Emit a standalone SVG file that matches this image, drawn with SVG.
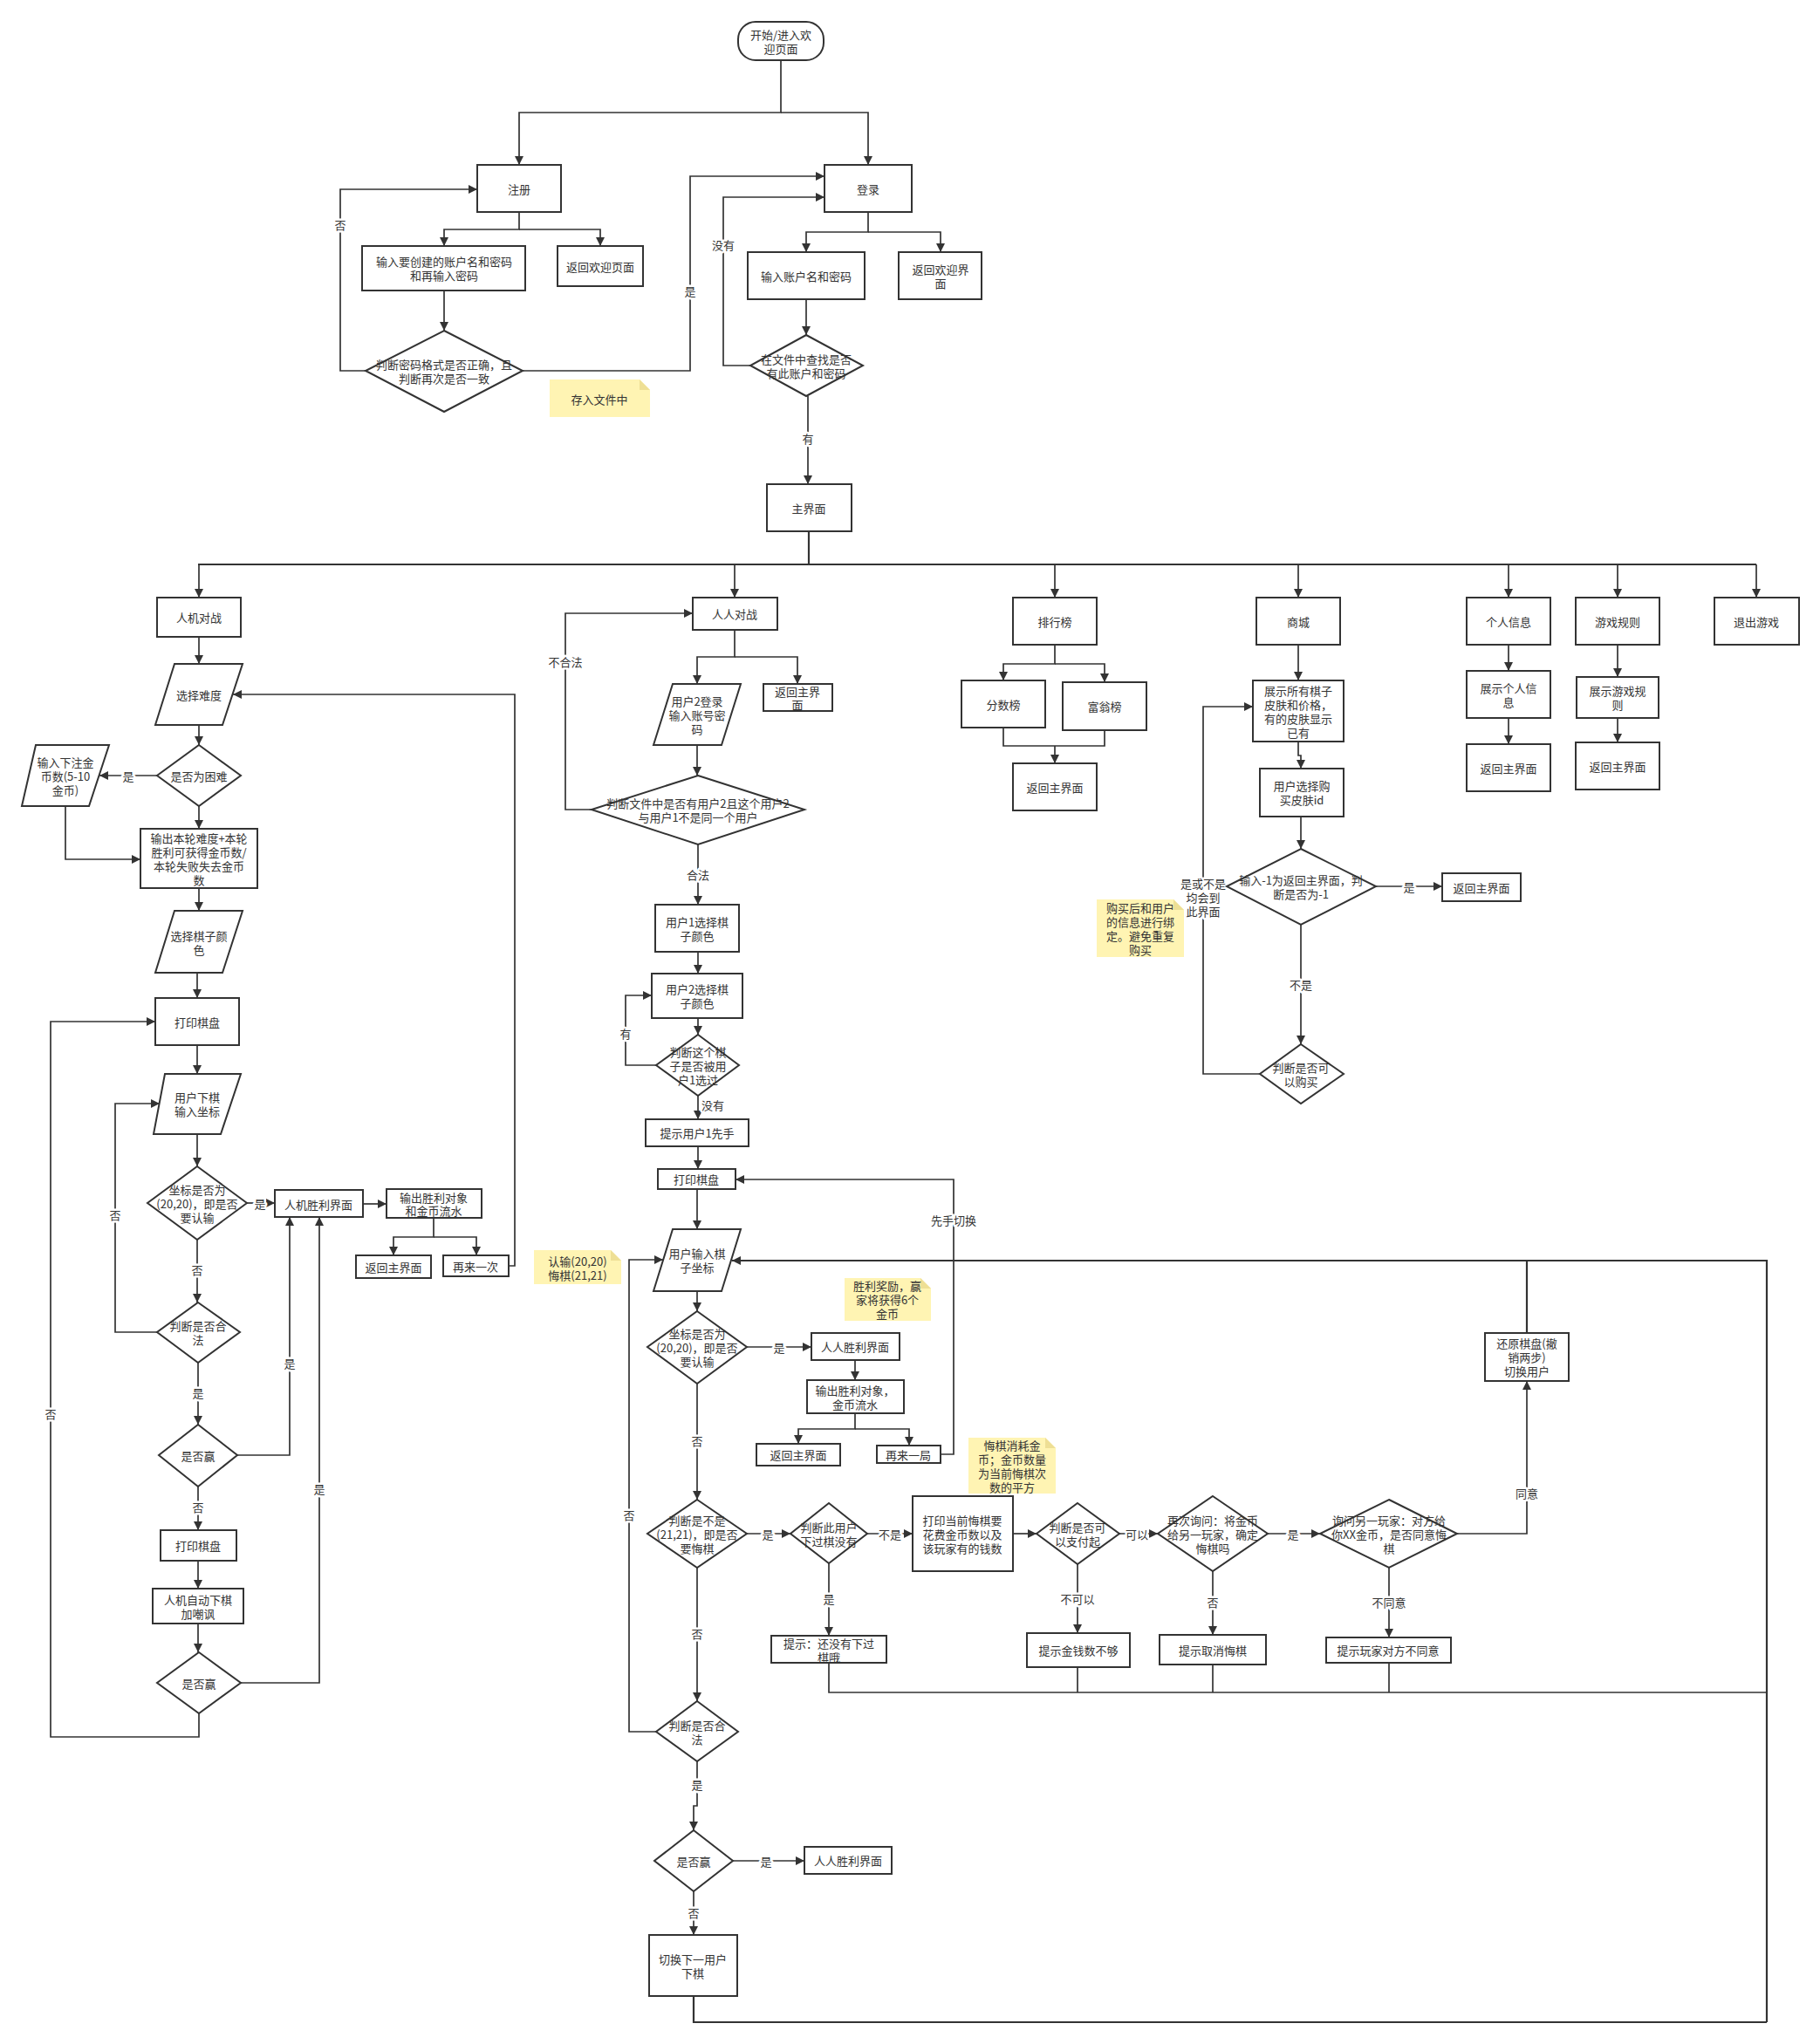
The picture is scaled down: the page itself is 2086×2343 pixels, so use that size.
<svg xmlns="http://www.w3.org/2000/svg" width="2086" height="2343" viewBox="0 0 2086 2343">
<style>
.n{fill:#fff;stroke:#333;stroke-width:2}
.note{fill:#fff4b3;stroke:none}
.fold{fill:#eedf95;stroke:none}
text{font-family:"Noto Sans CJK SC","Noto Sans",sans-serif;font-size:13px;fill:#333;text-anchor:middle;dominant-baseline:central}
.lbl{paint-order:stroke;stroke:#fff;stroke-width:5px;stroke-linejoin:round}
.c path{fill:none;stroke:#333;stroke-width:1.7}
.c path.a{marker-end:url(#arr)}
.c path.b{stroke-width:2.2}
</style>
<defs>
<marker id="arr" viewBox="0 0 10 10" refX="10" refY="5" markerWidth="11" markerHeight="10" markerUnits="userSpaceOnUse" orient="auto"><path d="M0,0 L10,5 L0,10 z" fill="#333"/></marker>
</defs>
<rect width="2086" height="2343" fill="#fff"/>

<g id="connectors" class="c">
<path class="a" d="M895 69 V129 H595 V189"/>
<path class="a" d="M895 129 H995 V189"/>
<path class="a" d="M595 243 V263 H509 V282"/>
<path class="a" d="M595 263 H688 V282"/>
<path class="a" d="M509 333 V379"/>
<path class="a" d="M419 425 H390 V217 H547"/>
<path class="a" d="M599 425 H791 V202 H945"/>
<path class="a" d="M995 243 V266 H924 V289"/>
<path class="a" d="M995 266 H1078 V289"/>
<path class="a" d="M924 343 V384"/>
<path class="a" d="M860 419 H829 V226 H945"/>
<path class="a" d="M926 454 V555"/>
<path class="b" d="M927 609 V647"/>
<path class="b" d="M227 647 H2013"/>
<path class="a" d="M228 647 V685"/>
<path class="a" d="M842 647 V685"/>
<path class="a" d="M1209 647 V685"/>
<path class="a" d="M1488 647 V685"/>
<path class="a" d="M1729 647 V685"/>
<path class="a" d="M1854 647 V685"/>
<path class="a" d="M2013 647 V685"/>

<path class="a" d="M228 730 V761"/>
<path class="a" d="M228 831 V854"/>
<path class="a" d="M180 889 H114"/>
<path class="a" d="M75 924 V985 H161"/>
<path class="a" d="M228 924 V950"/>
<path class="a" d="M228 1018 V1044"/>
<path class="a" d="M226 1115 V1144"/>
<path class="a" d="M226 1198 V1231"/>
<path class="a" d="M226 1300 V1337"/>
<path class="a" d="M283 1379 H315"/>
<path class="a" d="M416 1380 H443"/>
<path class="a" d="M497 1396 V1418 H451 V1439"/>
<path class="a" d="M497 1418 H546 V1439"/>
<path class="a" d="M583 1451 H590 V796 H267"/>
<path class="a" d="M226 1421 V1493"/>
<path class="a" d="M180 1527 H132 V1265 H183"/>
<path class="a" d="M227 1562 V1633"/>
<path class="a" d="M272 1668 H332 V1395"/>
<path class="a" d="M227 1704 V1754"/>
<path class="a" d="M227 1789 V1821"/>
<path class="a" d="M227 1861 V1894"/>
<path class="a" d="M276 1929 H366 V1395"/>
<path class="a" d="M228 1964 V1991 H58 V1171 H178"/>

<path class="a" d="M842 722 V753 H799 V784"/>
<path class="a" d="M842 753 H914 V784"/>
<path class="a" d="M799 854 V889"/>
<path class="a" d="M678 928 H648 V703 H794"/>
<path class="a" d="M800 968 V1037"/>
<path class="a" d="M800 1091 V1116"/>
<path class="a" d="M800 1167 V1186"/>
<path class="a" d="M752 1221 H717 V1141 H747"/>
<path class="a" d="M800 1256 V1283"/>
<path class="a" d="M800 1314 V1340"/>
<path class="a" d="M799 1363 V1409"/>
<path class="a" d="M799 1480 V1503"/>
<path class="a" d="M856 1544 H930"/>
<path class="a" d="M980 1559 V1582"/>
<path class="a" d="M980 1620 V1638 H915 V1655"/>
<path class="a" d="M980 1638 H1042 V1657"/>
<path class="a" d="M1078 1667 H1093 V1352 H843"/>
<path class="a" d="M799 1586 V1719"/>
<path class="a" d="M856 1758 H906"/>
<path class="a" d="M994 1758 H1046"/>
<path class="a" d="M1161 1758 H1188"/>
<path class="a" d="M1283 1758 H1327"/>
<path class="a" d="M1453 1758 H1513"/>
<path class="a" d="M1670 1758 H1750 V1583"/>
<path class="b" d="M1750 1528 V1445"/>
<path class="a" d="M950 1792 V1875"/>
<path class="a" d="M1235 1793 V1872"/>
<path class="a" d="M1390 1801 V1874"/>
<path class="a" d="M1592 1797 V1877"/>
<path d="M950 1906 V1940 H2025"/>
<path d="M1235 1911 V1940"/>
<path d="M1390 1908 V1940"/>
<path d="M1592 1906 V1940"/>
<path class="a b" d="M2025 2318 V1445 H839"/>
<path class="a" d="M799 1797 V1950"/>
<path class="a" d="M752 1985 H721 V1444 H760"/>
<path class="a" d="M799 2019 V2070 H795 V2098"/>
<path class="a" d="M840 2133 H922"/>
<path class="a" d="M795 2168 V2218"/>
<path class="b" d="M795 2288 V2318 H2025"/>

<path class="a" d="M1209 739 V761 H1150 V780"/>
<path class="a" d="M1209 761 H1266 V782"/>
<path d="M1150 834 V855 H1266 V837"/>
<path class="a" d="M1209 855 V875"/>
<path class="a" d="M1488 739 V780"/>
<path class="a" d="M1488 850 V866 H1491 V881"/>
<path class="a" d="M1491 936 V973"/>
<path class="a" d="M1577 1016 H1653"/>
<path class="a" d="M1491 1060 V1197"/>
<path class="a" d="M1444 1231 H1379 V810 H1436"/>
<path class="a" d="M1729 739 V769"/>
<path class="a" d="M1729 823 V853"/>
<path class="a" d="M1854 739 V776"/>
<path class="a" d="M1854 823 V851"/>

<g id="edge-labels">
<text class="lbl" x="390" y="257">否</text>
<text class="lbl" x="791" y="333">是</text>
<text class="lbl" x="829" y="280">没有</text>
<text class="lbl" x="926" y="502">有</text>
<text class="lbl" x="147" y="889">是</text>
<text class="lbl" x="298" y="1379">是</text>
<text class="lbl" x="226" y="1455">否</text>
<text class="lbl" x="132" y="1392">否</text>
<text class="lbl" x="227" y="1596">是</text>
<text class="lbl" x="332" y="1562">是</text>
<text class="lbl" x="227" y="1727">否</text>
<text class="lbl" x="366" y="1706">是</text>
<text class="lbl" x="58" y="1620">否</text>
<text class="lbl" x="648" y="758">不合法</text>
<text class="lbl" x="800" y="1002">合法</text>
<text class="lbl" x="717" y="1184">有</text>
<text class="lbl" x="817" y="1266">没有</text>
<text class="lbl" x="1093" y="1398">先手切换</text>
<text class="lbl" x="893" y="1544">是</text>
<text class="lbl" x="799" y="1651">否</text>
<text class="lbl" x="880" y="1758">是</text>
<text class="lbl" x="1020" y="1758">不是</text>
<text class="lbl" x="1303" y="1758">可以</text>
<text class="lbl" x="1482" y="1758">是</text>
<text class="lbl" x="1750" y="1711">同意</text>
<text class="lbl" x="950" y="1832">是</text>
<text class="lbl" x="1235" y="1832">不可以</text>
<text class="lbl" x="1390" y="1836">否</text>
<text class="lbl" x="1592" y="1836">不同意</text>
<text class="lbl" x="799" y="1872">否</text>
<text class="lbl" x="721" y="1736">否</text>
<text class="lbl" x="799" y="2045">是</text>
<text class="lbl" x="878" y="2133">是</text>
<text class="lbl" x="795" y="2192">否</text>
<text class="lbl" x="1615" y="1016">是</text>
<text class="lbl" x="1491" y="1128">不是</text>
<text class="lbl" x="1379" y="1012"><tspan x="1379">是或不是</tspan><tspan x="1379" dy="16">均会到</tspan><tspan x="1379" dy="16">此界面</tspan></text>
</g>
</g>

<g id="n_start"><rect class="n" x="846" y="25" width="98" height="44" rx="20"/><text x="895" y="39"><tspan x="895">开始/进入欢</tspan><tspan x="895" dy="16">迎页面</tspan></text></g>
<g id="n_reg"><rect class="n" x="547" y="189" width="96" height="54"/><text x="595" y="216">注册</text></g>
<g id="n_login"><rect class="n" x="945" y="189" width="100" height="54"/><text x="995" y="216">登录</text></g>
<g id="n_reginput"><rect class="n" x="415" y="282" width="187" height="51"/><text x="509" y="299"><tspan x="509">输入要创建的账户名和密码</tspan><tspan x="509" dy="16">和再输入密码</tspan></text></g>
<g id="n_regback"><rect class="n" x="639" y="282" width="98" height="46"/><text x="688" y="305">返回欢迎页面</text></g>
<g id="n_regcheck"><polygon class="n" points="509,379 599,425 509,472 419,425"/><text x="509" y="417"><tspan x="509">判断密码格式是否正确，且</tspan><tspan x="509" dy="16">判断再次是否一致</tspan></text></g>
<g id="note_save"><path class="note" d="M630 435 H733 L745 447 V478 H630 Z"/><path class="fold" d="M733 435 L745 447 H733 Z"/><text x="687" y="457">存入文件中</text></g>
<g id="n_loginput"><rect class="n" x="857" y="289" width="134" height="54"/><text x="924" y="316">输入账户名和密码</text></g>
<g id="n_loginback"><rect class="n" x="1030" y="289" width="95" height="54"/><text x="1078" y="308"><tspan x="1078">返回欢迎界</tspan><tspan x="1078" dy="16">面</tspan></text></g>
<g id="n_logcheck"><polygon class="n" points="924,384 989,419 924,454 860,419"/><text x="924" y="411"><tspan x="924">在文件中查找是否</tspan><tspan x="924" dy="16">有此账户和密码</tspan></text></g>
<g id="n_main"><rect class="n" x="879" y="555" width="97" height="54"/><text x="927" y="582">主界面</text></g>

<g id="n_pve"><rect class="n" x="180" y="685" width="96" height="45"/><text x="228" y="707">人机对战</text></g>
<g id="n_diff"><polygon class="n" points="200,761 278,761 255,831 178,831"/><text x="228" y="796">选择难度</text></g>
<g id="n_hard"><polygon class="n" points="228,854 276,889 228,924 180,889"/><text x="228" y="889">是否为困难</text></g>
<g id="n_bet"><polygon class="n" points="41,854 125,854 102,924 25,924"/><text x="75" y="873"><tspan x="75">输入下注金</tspan><tspan x="75" dy="16">币数(5-10</tspan><tspan x="75" dy="16">金币)</tspan></text></g>
<g id="n_out"><rect class="n" x="161" y="950" width="134" height="68"/><text x="228" y="960"><tspan x="228">输出本轮难度+本轮</tspan><tspan x="228" dy="16">胜利可获得金币数/</tspan><tspan x="228" dy="16">本轮失败失去金币</tspan><tspan x="228" dy="16">数</tspan></text></g>
<g id="n_color"><polygon class="n" points="200,1044 278,1044 255,1115 178,1115"/><text x="228" y="1072"><tspan x="228">选择棋子颜</tspan><tspan x="228" dy="16">色</tspan></text></g>
<g id="n_print1"><rect class="n" x="178" y="1144" width="96" height="54"/><text x="226" y="1171">打印棋盘</text></g>
<g id="n_move"><polygon class="n" points="189,1231 276,1231 253,1300 176,1300"/><text x="226" y="1257"><tspan x="226">用户下棋</tspan><tspan x="226" dy="16">输入坐标</tspan></text></g>
<g id="n_surr"><polygon class="n" points="226,1337 283,1379 226,1421 169,1379"/><text x="226" y="1363"><tspan x="226">坐标是否为</tspan><tspan x="226" dy="16">(20,20)，即是否</tspan><tspan x="226" dy="16">要认输</tspan></text></g>
<g id="n_pvewin"><rect class="n" x="315" y="1364" width="101" height="31"/><text x="365" y="1380">人机胜利界面</text></g>
<g id="n_pveout"><rect class="n" x="443" y="1363" width="109" height="33"/><text x="497" y="1372"><tspan x="497">输出胜利对象</tspan><tspan x="497" dy="15">和金币流水</tspan></text></g>
<g id="n_pveback"><rect class="n" x="408" y="1439" width="86" height="26"/><text x="451" y="1452">返回主界面</text></g>
<g id="n_pveagain"><rect class="n" x="508" y="1439" width="75" height="24"/><text x="545" y="1451">再来一次</text></g>
<g id="n_legal"><polygon class="n" points="227,1493 275,1527 227,1562 180,1527"/><text x="227" y="1519"><tspan x="227">判断是否合</tspan><tspan x="227" dy="16">法</tspan></text></g>
<g id="n_win1"><polygon class="n" points="227,1633 272,1668 227,1704 182,1668"/><text x="227" y="1668">是否赢</text></g>
<g id="n_print2"><rect class="n" x="184" y="1754" width="87" height="35"/><text x="227" y="1771">打印棋盘</text></g>
<g id="n_ai"><rect class="n" x="175" y="1821" width="104" height="40"/><text x="227" y="1833"><tspan x="227">人机自动下棋</tspan><tspan x="227" dy="16">加嘲讽</tspan></text></g>
<g id="n_win2"><polygon class="n" points="228,1894 276,1929 228,1964 180,1929"/><text x="228" y="1929">是否赢</text></g>
<g id="note_cmd"><path class="note" d="M612 1433 H700 L712 1445 V1472 H612 Z"/><path class="fold" d="M700 1433 L712 1445 H700 Z"/><text x="662" y="1445"><tspan x="662">认输(20,20)</tspan><tspan x="662" dy="16">悔棋(21,21)</tspan></text></g>

<g id="n_pvp"><rect class="n" x="794" y="685" width="97" height="37"/><text x="842" y="703">人人对战</text></g>
<g id="n_u2"><polygon class="n" points="771,784 849,784 827,854 749,854"/><text x="799" y="803"><tspan x="799">用户2登录</tspan><tspan x="799" dy="16">输入账号密</tspan><tspan x="799" dy="16">码</tspan></text></g>
<g id="n_pvpback"><rect class="n" x="875" y="784" width="79" height="31"/><text x="914" y="792"><tspan x="914">返回主界</tspan><tspan x="914" dy="15">面</tspan></text></g>
<g id="n_chk2"><polygon class="n" points="800,889 922,928 800,968 678,928"/><text x="800" y="920"><tspan x="800">判断文件中是否有用户2且这个用户2</tspan><tspan x="800" dy="16">与用户1不是同一个用户</tspan></text></g>
<g id="n_u1c"><rect class="n" x="751" y="1037" width="96" height="54"/><text x="799" y="1056"><tspan x="799">用户1选择棋</tspan><tspan x="799" dy="16">子颜色</tspan></text></g>
<g id="n_u2c"><rect class="n" x="747" y="1116" width="104" height="51"/><text x="799" y="1133"><tspan x="799">用户2选择棋</tspan><tspan x="799" dy="16">子颜色</tspan></text></g>
<g id="n_chk3"><polygon class="n" points="800,1186 847,1221 800,1256 752,1221"/><text x="800" y="1205"><tspan x="800">判断这个棋</tspan><tspan x="800" dy="16">子是否被用</tspan><tspan x="800" dy="16">户1选过</tspan></text></g>
<g id="n_first"><rect class="n" x="740" y="1283" width="118" height="31"/><text x="799" y="1298">提示用户1先手</text></g>
<g id="n_print3"><rect class="n" x="754" y="1340" width="89" height="23"/><text x="798" y="1351">打印棋盘</text></g>
<g id="n_move2"><polygon class="n" points="771,1409 849,1409 827,1480 749,1480"/><text x="799" y="1436"><tspan x="799">用户输入棋</tspan><tspan x="799" dy="16">子坐标</tspan></text></g>
<g id="n_surr2"><polygon class="n" points="799,1503 856,1544 799,1586 742,1544"/><text x="799" y="1528"><tspan x="799">坐标是否为</tspan><tspan x="799" dy="16">(20,20)，即是否</tspan><tspan x="799" dy="16">要认输</tspan></text></g>
<g id="n_pvpwin"><rect class="n" x="930" y="1528" width="101" height="31"/><text x="980" y="1543">人人胜利界面</text></g>
<g id="n_pvpout"><rect class="n" x="925" y="1582" width="111" height="38"/><text x="980" y="1593"><tspan x="980">输出胜利对象，</tspan><tspan x="980" dy="16">金币流水</tspan></text></g>
<g id="n_pvpback2"><rect class="n" x="867" y="1655" width="96" height="25"/><text x="915" y="1667">返回主界面</text></g>
<g id="n_again2"><rect class="n" x="1005" y="1657" width="73" height="20"/><text x="1041" y="1667">再来一局</text></g>
<g id="note_win"><path class="note" d="M968 1465 H1055 L1067 1477 V1514 H968 Z"/><path class="fold" d="M1055 1465 L1067 1477 H1055 Z"/><text x="1017" y="1473"><tspan x="1017">胜利奖励，赢</tspan><tspan x="1017" dy="16">家将获得6个</tspan><tspan x="1017" dy="16">金币</tspan></text></g>
<g id="n_undo"><polygon class="n" points="799,1719 856,1758 799,1797 742,1758"/><text x="799" y="1742"><tspan x="799">判断是不是</tspan><tspan x="799" dy="16">(21,21)，即是否</tspan><tspan x="799" dy="16">要悔棋</tspan></text></g>
<g id="n_moved"><polygon class="n" points="950,1723 994,1758 950,1792 906,1758"/><text x="950" y="1750"><tspan x="950">判断此用户</tspan><tspan x="950" dy="16">下过棋没有</tspan></text></g>
<g id="n_cost"><rect class="n" x="1046" y="1715" width="115" height="86"/><text x="1103" y="1742"><tspan x="1103">打印当前悔棋要</tspan><tspan x="1103" dy="16">花费金币数以及</tspan><tspan x="1103" dy="16">该玩家有的钱数</tspan></text></g>
<g id="n_afford"><polygon class="n" points="1235,1723 1283,1758 1235,1793 1188,1758"/><text x="1235" y="1750"><tspan x="1235">判断是否可</tspan><tspan x="1235" dy="16">以支付起</tspan></text></g>
<g id="n_confirm"><polygon class="n" points="1390,1715 1453,1758 1390,1801 1327,1758"/><text x="1390" y="1742"><tspan x="1390">再次询问：将金币</tspan><tspan x="1390" dy="16">给另一玩家，确定</tspan><tspan x="1390" dy="16">悔棋吗</tspan></text></g>
<g id="n_ask"><polygon class="n" points="1592,1719 1670,1758 1592,1797 1513,1758"/><text x="1592" y="1742"><tspan x="1592">询问另一玩家：对方给</tspan><tspan x="1592" dy="16">你XX金币，是否同意悔</tspan><tspan x="1592" dy="16">棋</tspan></text></g>
<g id="n_restore"><rect class="n" x="1702" y="1528" width="96" height="55"/><text x="1750" y="1539"><tspan x="1750">还原棋盘(撤</tspan><tspan x="1750" dy="16">销两步)</tspan><tspan x="1750" dy="16">切换用户</tspan></text></g>
<g id="note_undo"><path class="note" d="M1110 1648 H1198 L1210 1660 V1712 H1110 Z"/><path class="fold" d="M1198 1648 L1210 1660 H1198 Z"/><text x="1160" y="1656"><tspan x="1160">悔棋消耗金</tspan><tspan x="1160" dy="16">币；金币数量</tspan><tspan x="1160" dy="16">为当前悔棋次</tspan><tspan x="1160" dy="16">数的平方</tspan></text></g>
<g id="n_nomove"><rect class="n" x="884" y="1875" width="132" height="31"/><text x="950" y="1883"><tspan x="950">提示：还没有下过</tspan><tspan x="950" dy="16">棋哦</tspan></text></g>
<g id="n_nomoney"><rect class="n" x="1177" y="1872" width="118" height="39"/><text x="1236" y="1891">提示金钱数不够</text></g>
<g id="n_cancel"><rect class="n" x="1329" y="1874" width="122" height="34"/><text x="1390" y="1891">提示取消悔棋</text></g>
<g id="n_disagree"><rect class="n" x="1520" y="1877" width="143" height="29"/><text x="1591" y="1891">提示玩家对方不同意</text></g>
<g id="n_legal2"><polygon class="n" points="799,1950 846,1985 799,2019 752,1985"/><text x="799" y="1977"><tspan x="799">判断是否合</tspan><tspan x="799" dy="16">法</tspan></text></g>
<g id="n_win3"><polygon class="n" points="795,2098 840,2133 795,2168 750,2133"/><text x="795" y="2133">是否赢</text></g>
<g id="n_pvpwin2"><rect class="n" x="922" y="2117" width="100" height="31"/><text x="972" y="2132">人人胜利界面</text></g>
<g id="n_switch"><rect class="n" x="744" y="2218" width="101" height="70"/><text x="794" y="2245"><tspan x="794">切换下一用户</tspan><tspan x="794" dy="16">下棋</tspan></text></g>

<g id="n_rank"><rect class="n" x="1161" y="685" width="96" height="54"/><text x="1209" y="712">排行榜</text></g>
<g id="n_score"><rect class="n" x="1102" y="780" width="96" height="54"/><text x="1150" y="807">分数榜</text></g>
<g id="n_rich"><rect class="n" x="1218" y="782" width="96" height="55"/><text x="1266" y="809">富翁榜</text></g>
<g id="n_rankback"><rect class="n" x="1161" y="875" width="96" height="54"/><text x="1209" y="902">返回主界面</text></g>
<g id="n_shop"><rect class="n" x="1440" y="685" width="96" height="54"/><text x="1488" y="712">商城</text></g>
<g id="n_skins"><rect class="n" x="1436" y="780" width="104" height="70"/><text x="1488" y="791"><tspan x="1488">展示所有棋子</tspan><tspan x="1488" dy="16">皮肤和价格，</tspan><tspan x="1488" dy="16">有的皮肤显示</tspan><tspan x="1488" dy="16">已有</tspan></text></g>
<g id="n_buy"><rect class="n" x="1444" y="881" width="96" height="55"/><text x="1492" y="900"><tspan x="1492">用户选择购</tspan><tspan x="1492" dy="16">买皮肤id</tspan></text></g>
<g id="n_input1"><polygon class="n" points="1491,973 1577,1016 1491,1060 1406,1016"/><text x="1491" y="1008"><tspan x="1491">输入-1为返回主界面，判</tspan><tspan x="1491" dy="16">断是否为-1</tspan></text></g>
<g id="n_shopback"><rect class="n" x="1653" y="1001" width="90" height="32"/><text x="1698" y="1017">返回主界面</text></g>
<g id="n_canbuy"><polygon class="n" points="1491,1197 1540,1231 1491,1265 1444,1231"/><text x="1491" y="1223"><tspan x="1491">判断是否可</tspan><tspan x="1491" dy="16">以购买</tspan></text></g>
<g id="note_buy"><path class="note" d="M1257 1031 H1345 L1357 1043 V1097 H1257 Z"/><path class="fold" d="M1345 1031 L1357 1043 H1345 Z"/><text x="1307" y="1040"><tspan x="1307">购买后和用户</tspan><tspan x="1307" dy="16">的信息进行绑</tspan><tspan x="1307" dy="16">定。避免重复</tspan><tspan x="1307" dy="16">购买</tspan></text></g>
<g id="n_info"><rect class="n" x="1681" y="685" width="96" height="54"/><text x="1729" y="712">个人信息</text></g>
<g id="n_showinfo"><rect class="n" x="1681" y="769" width="96" height="54"/><text x="1729" y="788"><tspan x="1729">展示个人信</tspan><tspan x="1729" dy="16">息</tspan></text></g>
<g id="n_infoback"><rect class="n" x="1681" y="853" width="96" height="54"/><text x="1729" y="880">返回主界面</text></g>
<g id="n_rules"><rect class="n" x="1806" y="685" width="96" height="54"/><text x="1854" y="712">游戏规则</text></g>
<g id="n_showrules"><rect class="n" x="1807" y="776" width="94" height="47"/><text x="1854" y="791"><tspan x="1854">展示游戏规</tspan><tspan x="1854" dy="16">则</tspan></text></g>
<g id="n_rulesback"><rect class="n" x="1806" y="851" width="96" height="54"/><text x="1854" y="878">返回主界面</text></g>
<g id="n_exit"><rect class="n" x="1965" y="685" width="97" height="54"/><text x="2013" y="712">退出游戏</text></g>
</svg>
